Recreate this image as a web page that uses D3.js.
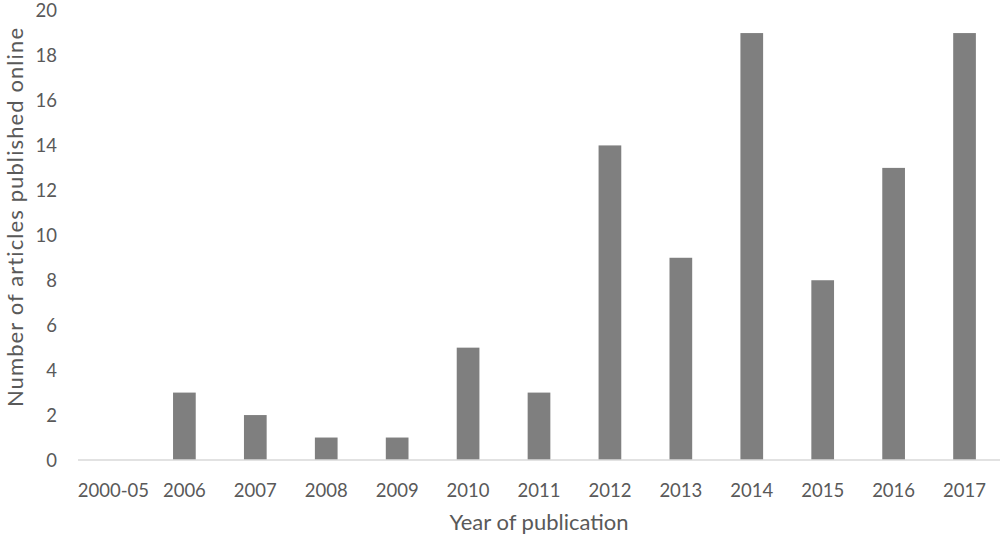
<!DOCTYPE html>
<html>
<head>
<meta charset="utf-8">
<script src="https://cdn.jsdelivr.net/npm/d3@7"></script>
<style>
  body { margin: 0; background: #fff; }
  text { font-family: Lato, "Open Sans", sans-serif; fill: #595959; }
</style>
</head>
<body>
<svg id="chart" width="1000" height="536"></svg>
<script>
const years = ["2000-05", "2006", "2007", "2008", "2009", "2010", "2011", "2012", "2013", "2014", "2015", "2016", "2017"]
const articles = [0, 3, 2, 1, 1, 5, 3, 14, 9, 19, 8, 13, 19]
const yTicks = [0, 2, 4, 6, 8, 10, 12, 14, 16, 18, 20]

const svg = d3.select("#chart")
const margin = { left: 78, right: 0, top: 10.6, bottom: 76 }
const width = 1000 - margin.left - margin.right
const height = 536 - margin.top - margin.bottom

const x = d3.scaleBand().domain(years).range([margin.left, margin.left + width]).paddingInner(0.68).paddingOuter(0.34)
const y = d3.scaleLinear().domain([0, 20]).range([margin.top + height, margin.top])

// bars
svg.append("g")
    .selectAll("rect")
    .data(articles)
    .join("rect")
    .attr("x", (d, i) => x(years[i]))
    .attr("y", d => y(d))
    .attr("width", x.bandwidth())
    .attr("height", d => y(0) - y(d))
    .attr("fill", "#7f7f7f")

// baseline
svg.append("line")
    .attr("x1", margin.left).attr("x2", margin.left + width)
    .attr("y1", y(0)).attr("y2", y(0))
    .attr("stroke", "#d9d9d9").attr("stroke-width", 1.5)

// y tick labels
svg.append("g")
    .selectAll("text")
    .data(yTicks)
    .join("text")
    .attr("x", 57)
    .attr("y", d => y(d))
    .attr("dy", "0.36em")
    .attr("text-anchor", "end")
    .style("font-size", "18.5px")
    .text(d => d)

// x tick labels
svg.append("g")
    .selectAll("text")
    .data(years)
    .join("text")
    .attr("x", d => x(d) + x.bandwidth() / 2)
    .attr("y", 490)
    .attr("dy", "0.36em")
    .attr("text-anchor", "middle")
    .style("font-size", "18.5px")
    .text(d => d)

// axis titles
svg.append("text")
    .attr("x", 539).attr("y", 522)
    .attr("dy", "0.36em")
    .attr("text-anchor", "middle")
    .style("font-size", "22px")
    .text("Year of publication")

svg.append("text")
    .attr("transform", "translate(15,217) rotate(-90)")
    .attr("dy", "0.36em")
    .attr("text-anchor", "middle")
    .style("font-size", "22px")
    .style("letter-spacing", "1.1px")
    .text("Number of articles published online")
</script>
</body>
</html>
